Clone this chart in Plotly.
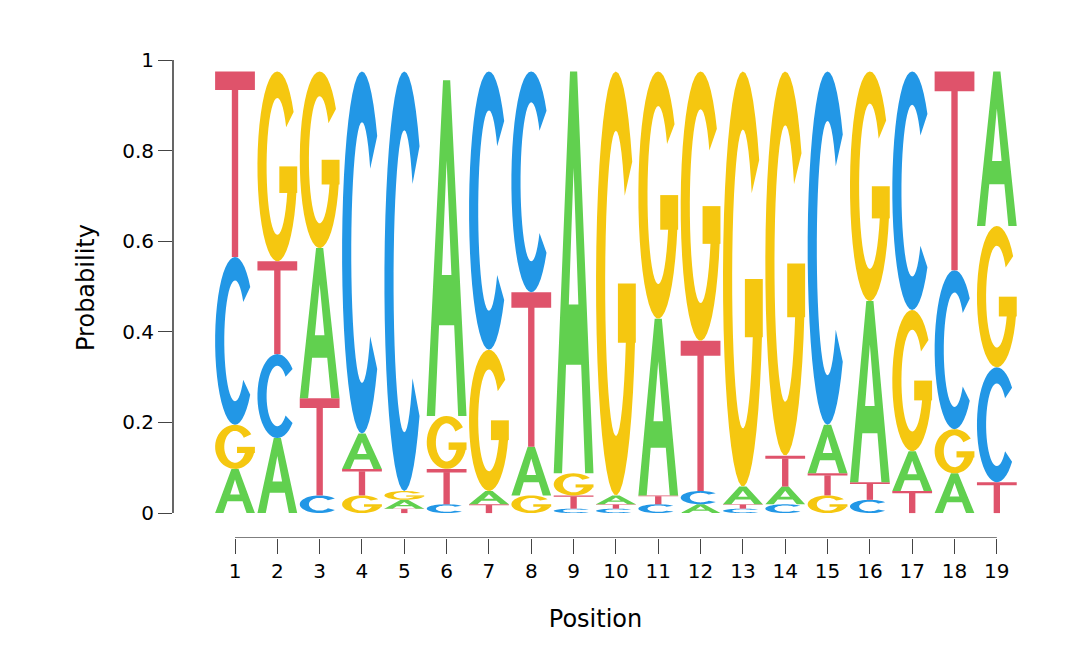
import numpy as np
import plotly.graph_objects as go

positions = list(range(1, 20))
letters = ["A", "C", "G", "T"]
prob_A = [0.10, 0.17, 0.34, 0.08, 0.02, 0.76, 0.03, 0.11, 0.91, 0.02, 0.40, 0.02, 0.04, 0.04, 0.11, 0.41, 0.09, 0.09, 0.35]
prob_C = [0.38, 0.19, 0.04, 0.82, 0.95, 0.02, 0.63, 0.50, 0.01, 0.01, 0.02, 0.03, 0.01, 0.02, 0.80, 0.03, 0.54, 0.36, 0.26]
prob_G = [0.10, 0.43, 0.40, 0.04, 0.02, 0.12, 0.32, 0.04, 0.05, 0.96, 0.56, 0.61, 0.94, 0.87, 0.04, 0.52, 0.32, 0.10, 0.32]
prob_T = [0.42, 0.21, 0.22, 0.06, 0.01, 0.08, 0.02, 0.35, 0.03, 0.01, 0.02, 0.34, 0.01, 0.07, 0.05, 0.04, 0.05, 0.45, 0.07]
colors = {"A": "#61D04F", "C": "#2297E6", "G": "#F5C710", "T": "#DF536B"}


def ring(a0, a1, n=40):
    t = np.radians(np.linspace(a0, a1, n))
    outer = [(0.5 + 0.5 * np.cos(a), 0.5 + 0.5 * np.sin(a)) for a in t]
    inner = [(0.5 + 0.27 * np.cos(a), 0.5 + 0.36 * np.sin(a)) for a in t[::-1]]
    return outer + inner


# glyph outlines in a unit box
glyphs = {
    "T": [[(0, 0.9), (1, 0.9), (1, 1), (0, 1)], [(0.42, 0), (0.58, 0), (0.58, 0.91), (0.42, 0.91)]],
    "A": [[(0, 0), (0.41, 1), (0.59, 1), (1, 0), (0.79, 0), (0.69, 0.27), (0.31, 0.27), (0.21, 0), (0, 0),
           (0.38, 0.42), (0.62, 0.42), (0.5, 0.76), (0.38, 0.42)]],
    "C": [ring(40, 320)],
    "G": [ring(35, 345), [(0.55, 0.36), (1, 0.36), (1, 0.5), (0.55, 0.5)]],
}


def glyph_path(poly, x0, x1, y0, y1):
    pts = [(x0 + px * (x1 - x0), y0 + py * (y1 - y0)) for px, py in poly]
    return "M " + " L ".join(f"{x:.4f},{y:.5f}" for x, y in pts) + " Z"


probs = {"A": prob_A, "C": prob_C, "G": prob_G, "T": prob_T}
shapes = []
for i, p in enumerate(positions):
    col = sorted(letters, key=lambda l: probs[l][i])
    base = 0.0
    for l in col:
        h = probs[l][i]
        for poly in glyphs[l]:
            shapes.append(dict(type="path", path=glyph_path(poly, p - 0.47, p + 0.47, base, base + h * 0.975),
                               fillcolor=colors[l], line=dict(width=0), layer="above"))
        base += h * 0.975

# R-style axis lines
shapes.append(dict(type="line", x0=1, x1=19, y0=-0.055, y1=-0.055, line=dict(color="black", width=1.2)))
shapes.append(dict(type="line", xref="paper", x0=0, x1=0, y0=0, y1=1, line=dict(color="black", width=1.2)))

fig = go.Figure(go.Scatter(x=[None], y=[None], showlegend=False))
fig.update_layout(
    width=1080, height=666, plot_bgcolor="white", paper_bgcolor="white",
    margin=dict(l=165, r=70, t=29, b=136, autoexpand=False),
    font=dict(family="DejaVu Sans", size=20, color="black"),
    shapes=shapes,
    xaxis=dict(range=[-0.465, 19.5], tickvals=positions, ticks="outside", ticklen=15,
               showgrid=False, zeroline=False, showline=False, automargin=False,
               title=dict(text="Position", standoff=28)),
    yaxis=dict(range=[-0.055, 1.051], tickvals=[0, 0.2, 0.4, 0.6, 0.8, 1],
               ticktext=["0", "0.2", "0.4", "0.6", "0.8", "1"], ticks="outside", ticklen=14,
               showgrid=False, zeroline=False, showline=False, automargin=False,
               title=dict(text="Probability", standoff=20)),
)
fig.write_html("out.html")
